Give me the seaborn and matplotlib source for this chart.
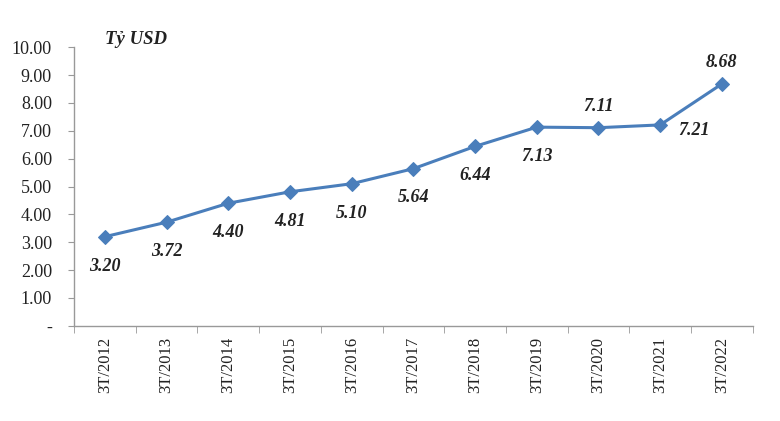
import numpy as np
import pandas as pd
import matplotlib.pyplot as plt
import seaborn as sns
from matplotlib.ticker import FixedLocator

periods = ['3T/2012', '3T/2013', '3T/2014', '3T/2015', '3T/2016', '3T/2017',
           '3T/2018', '3T/2019', '3T/2020', '3T/2021', '3T/2022']
values = [3.20, 3.72, 4.40, 4.81, 5.10, 5.64, 6.44, 7.13, 7.11, 7.21, 8.68]
label_pos = ['below', 'below', 'below', 'below', 'below', 'below',
             'below', 'below', 'above', 'right', 'above']

sns.set_style('white')
plt.rcParams['font.family'] = ['Liberation Serif', 'DejaVu Serif']

df = pd.DataFrame({'x': np.arange(len(periods)), 'value': values})

fig = plt.figure(figsize=(7.8, 4.21), dpi=100)
ax = fig.add_axes([0.095, 0.226, 0.870, 0.662])

sns.lineplot(data=df, x='x', y='value', ax=ax, color='#4a7ebb', linewidth=2.2,
             marker='D', markersize=7, markeredgecolor='#4a7ebb')

ax.set_xlim(-0.5, len(periods) - 0.5)
ax.set_ylim(0, 10)
ax.set_yticks(np.arange(0, 11, 1))
ax.set_yticklabels(['-'] + [f'{v:.2f}' for v in range(1, 11)], fontsize=13, color='#222222')
ax.set_xticks(df['x'])
ax.set_xticklabels(periods, rotation=90, fontsize=12, color='#222222')
ax.xaxis.set_minor_locator(FixedLocator(np.arange(-0.5, len(periods), 1)))
ax.tick_params(axis='x', which='major', length=0, pad=8)
ax.tick_params(axis='x', which='minor', length=5, color='#999999', direction='out', bottom=True)
ax.tick_params(axis='y', length=4, color='#999999', direction='out', left=True, pad=12)
ax.set_xlabel('')
ax.set_ylabel('')

for s in ['top', 'right']:
    ax.spines[s].set_visible(False)
for s in ['left', 'bottom']:
    ax.spines[s].set_color('#999999')
    ax.spines[s].set_linewidth(1)

lab = dict(fontsize=13, fontweight='bold', fontstyle='italic', color='#222222',
           textcoords='offset points')
for x, v, p in zip(df['x'], values, label_pos):
    if p == 'below':
        ax.annotate(f'{v:.2f}', (x, v), xytext=(0, -15), ha='center', va='top', **lab)
    elif p == 'above':
        ax.annotate(f'{v:.2f}', (x, v), xytext=(0, 9), ha='center', va='bottom', **lab)
    else:
        ax.annotate(f'{v:.2f}', (x, v), xytext=(13, -4), ha='left', va='center', **lab)

fig.text(0.135, 0.895, 'Tỷ USD', fontsize=13.5, fontweight='bold', fontstyle='italic', color='#222222')

fig.savefig('out.png', dpi=100)
